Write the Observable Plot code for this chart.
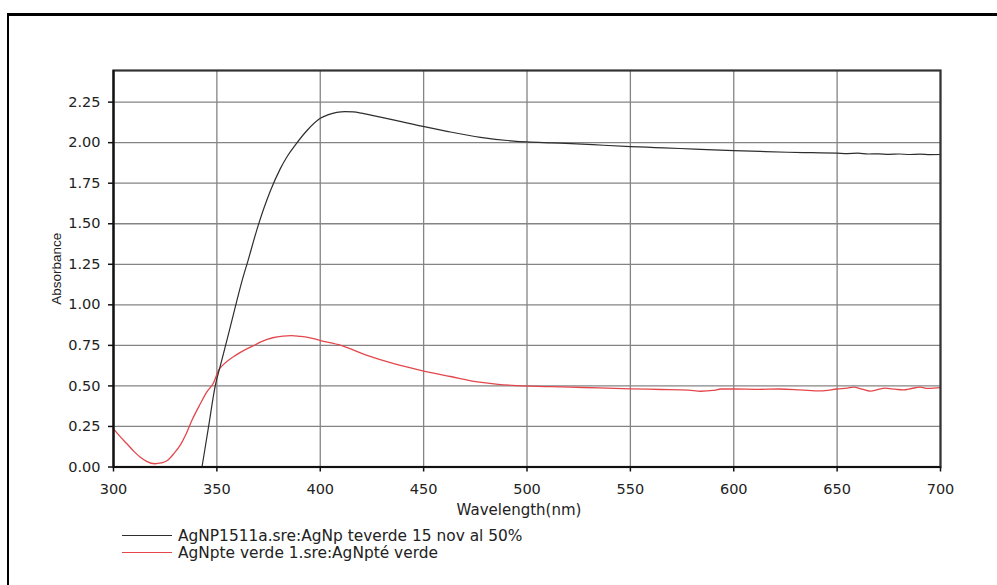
<!DOCTYPE html>
<html><head><meta charset="utf-8">
<script src="https://cdn.jsdelivr.net/npm/d3@7"></script>
<script src="https://cdn.jsdelivr.net/npm/@observablehq/plot@0.6"></script>
<style>
body{margin:0;background:#fff;}
#wrap{position:relative;width:997px;height:585px;overflow:hidden;background:#fff;}
#border{position:absolute;left:7px;top:13px;width:1200px;height:800px;border-left:2.5px solid #000;border-top:3px solid #000;}
#chart{position:absolute;left:0;top:0;}
#legend{position:absolute;left:122px;top:527px;font-family:"DejaVu Sans",sans-serif;font-size:15.4px;color:#222;}
.item{display:flex;align-items:center;height:17.3px;white-space:nowrap;}
.sw{width:50px;height:0;border-top:1.5px solid;margin-right:6px;}
</style></head>
<body>
<div id="wrap"><div id="border"></div><div id="chart"></div><div id="legend"></div></div>
<script>
// ---- data ----
const xTicks = [300, 350, 400, 450, 500, 550, 600, 650, 700];
const yTicks = [0, 0.25, 0.5, 0.75, 1.0, 1.25, 1.5, 1.75, 2.0, 2.25];
const seriesNames = ["AgNP1511a.sre:AgNp teverde 15 nov al 50%", "AgNpte verde 1.sre:AgNpté verde"];
const seriesColors = ["#2e2e2e", "#e3474c"];
const xLabel = "Wavelength(nm)";
const yLabel = "Absorbance";

const blackWl = [342.8, 346, 349.2, 352, 356, 359.7, 362, 365, 370, 375.8, 380.7, 384, 387.9, 393.6, 400, 404, 408, 412, 416, 420, 425.7, 437, 449.7, 461.3, 477.5, 493.6, 500, 512, 524, 537, 550, 562, 574, 587, 600, 613, 626, 638, 650, 655, 660, 665, 670, 675, 680, 685, 690, 695, 700];
const blackAbs = [0, 0.25, 0.5, 0.64, 0.84, 1.027, 1.14, 1.27, 1.49, 1.70, 1.84, 1.915, 1.985, 2.075, 2.15, 2.173, 2.187, 2.192, 2.19, 2.182, 2.167, 2.136, 2.10, 2.07, 2.033, 2.01, 2.005, 1.999, 1.993, 1.984, 1.976, 1.970, 1.964, 1.957, 1.951, 1.946, 1.941, 1.938, 1.935, 1.933, 1.935, 1.930, 1.931, 1.928, 1.930, 1.927, 1.929, 1.926, 1.927];

const redWl = [300, 303, 306.5, 310, 313, 316, 320, 323, 326, 329, 332.3, 335, 338, 342, 345, 348.4, 351, 353, 358, 364, 368, 371, 377, 382, 386, 390, 394, 400, 410, 423, 436, 449, 463, 477, 486, 495, 511, 521, 535, 550, 565, 578, 584, 590, 594, 600, 612, 622, 632, 642, 650, 655, 658, 662, 666, 670, 673, 678, 682, 686, 690, 694, 700];
const redAbs = [0.235, 0.19, 0.143, 0.095, 0.06, 0.035, 0.02, 0.025, 0.04, 0.08, 0.135, 0.2, 0.29, 0.39, 0.46, 0.52, 0.6, 0.63, 0.68, 0.725, 0.75, 0.77, 0.797, 0.807, 0.81, 0.806, 0.80, 0.78, 0.75, 0.687, 0.636, 0.595, 0.558, 0.523, 0.51, 0.502, 0.496, 0.492, 0.488, 0.482, 0.478, 0.474, 0.467, 0.472, 0.481, 0.481, 0.479, 0.481, 0.476, 0.469, 0.481, 0.487, 0.492, 0.48, 0.468, 0.478, 0.486, 0.48, 0.475, 0.484, 0.492, 0.485, 0.49];

const black = blackWl.map((w, i) => ({wl: w, abs: blackAbs[i]}));
const red = redWl.map((w, i) => ({wl: w, abs: redAbs[i]}));

const tickFont = {fontFamily: "DejaVu Sans", fontSize: 14.5, fill: "#222"};

const plot = Plot.plot({
  width: 997,
  height: 520,
  marginLeft: 113,
  marginRight: 57,
  marginTop: 70,
  marginBottom: 53.5,
  style: {background: "transparent", fontFamily: "DejaVu Sans", fontSize: "14.5px", color: "#222"},
  x: {domain: [300, 700]},
  y: {domain: [0, 2.445]},
  marks: [
    Plot.gridX(xTicks, {stroke: "#848484", strokeOpacity: 1, strokeWidth: 1.3}),
    Plot.gridY(yTicks, {stroke: "#848484", strokeOpacity: 1, strokeWidth: 1.3}),
    Plot.line(red, {x: "wl", y: "abs", stroke: seriesColors[1], strokeWidth: 1.3, curve: "monotone-x"}),
    Plot.line(black, {x: "wl", y: "abs", stroke: seriesColors[0], strokeWidth: 1.2, curve: "monotone-x"}),
    Plot.frame({stroke: "#333", strokeWidth: 2.2}),
    Plot.axisX(xTicks, {tickSize: 5, tickPadding: 12, stroke: "#111", strokeWidth: 1.5, label: null, ...tickFont}),
    Plot.axisY(yTicks, {tickSize: 5, tickPadding: 8, tickFormat: d3.format(".2f"), stroke: "#111", strokeWidth: 1.5, label: null, ...tickFont}),
    Plot.ruleY([0], {stroke: "#111", strokeWidth: 2}),
    Plot.ruleX([300], {stroke: "#111", strokeWidth: 2}),
    Plot.text([xLabel], {frameAnchor: "bottom", dy: 48, dx: -8, fontFamily: "DejaVu Sans", fontSize: 15, fill: "#222"}),
    Plot.text([yLabel], {frameAnchor: "left", textAnchor: "middle", rotate: -90, dx: -57, fontFamily: "Liberation Sans", fontSize: 13.5, fill: "#222"})
  ]
});
document.getElementById("chart").appendChild(plot);

const legend = document.getElementById("legend");
seriesNames.forEach((name, i) => {
  const item = document.createElement("div");
  item.className = "item";
  const sw = document.createElement("span");
  sw.className = "sw";
  sw.style.borderTopColor = seriesColors[i];
  const t = document.createElement("span");
  t.textContent = name;
  item.appendChild(sw);
  item.appendChild(t);
  legend.appendChild(item);
});
</script>
</body></html>
